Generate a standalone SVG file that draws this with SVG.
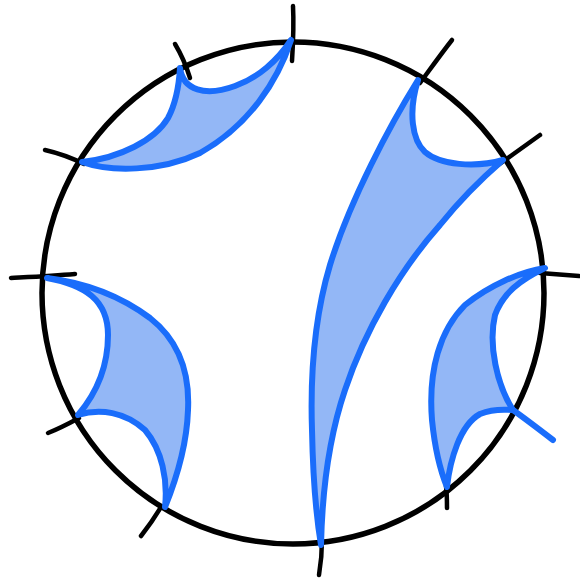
<svg xmlns="http://www.w3.org/2000/svg" width="580" height="581" viewBox="0 0 580 581">
<style>
.ring{fill:none;stroke:#000;stroke-width:5.5}
.tick{fill:none;stroke:#000;stroke-width:4.5;stroke-linecap:round}
.cell{fill:#93b7f6;stroke:#1a6dfb;stroke-width:6;stroke-linejoin:round;stroke-linecap:round}
.tail{fill:none;stroke:#1a6dfb;stroke-width:6;stroke-linecap:round}
</style>
<rect width="580" height="581" fill="#fff"/>
<g id="ring">
<circle class="ring" cx="293" cy="293" r="251"/>
</g>
<g id="ticks">
<path class="tick" d="M293,6 C294,25 293,45 292,61"/>
<path class="tick" d="M175,44 C181,54 186,65 190,78"/>
<path class="tick" d="M45,150 C58,153 70,157 84,164"/>
<path class="tick" d="M11,278 C30,277 52,276 75,274"/>
<path class="tick" d="M48,433 C58,429 68,424 79,418"/>
<path class="tick" d="M141,536 C148,527 155,517 161,507"/>
<path class="tick" d="M322,540 C322,552 321,563 319,575"/>
<path class="tick" d="M446,486 C447,494 447,501 447,508"/>
<path class="tick" d="M540,273 C553,274 566,275 579,276"/>
<path class="tick" d="M487,173 C505,160 522,148 540,135"/>
<path class="tick" d="M420,83 C431,68 441,54 452,40"/>
</g>
<g id="cell-top-left">
<path class="cell" d="M180,68 C183,90 205,97 235,86 C258,78 278,60 291,40 C278,80 250,125 200,153 C160,172 110,172 82,162 C120,158 155,140 168,118 C176,103 179,85 180,68 Z"/>
</g>
<g id="cell-center">
<path class="cell" d="M418,80 C390,125 350,200 330,265 C315,315 310,370 312,430 C313,480 316,515 321,545 C322,500 328,440 345,390 C365,330 400,270 440,225 C460,200 480,180 503,160 C475,168 440,165 425,152 C412,140 408,112 418,80 Z"/>
</g>
<g id="cell-right">
<path class="cell" d="M545,268 C520,272 490,285 465,305 C440,330 428,370 432,420 C435,450 440,470 447,487 C450,460 460,425 480,414 C495,408 505,410 513,410 C497,385 488,345 495,315 C503,293 520,280 545,268 Z"/>
<path class="tail" d="M513,410 C527,420 540,430 553,440"/>
</g>
<g id="cell-left">
<path class="cell" d="M47,278 C80,282 115,292 150,318 C178,340 190,370 188,410 C187,440 178,475 165,507 C168,480 162,450 145,430 C125,412 100,408 78,415 C95,395 108,370 108,335 C108,300 85,285 47,278 Z"/>
</g>
</svg>
